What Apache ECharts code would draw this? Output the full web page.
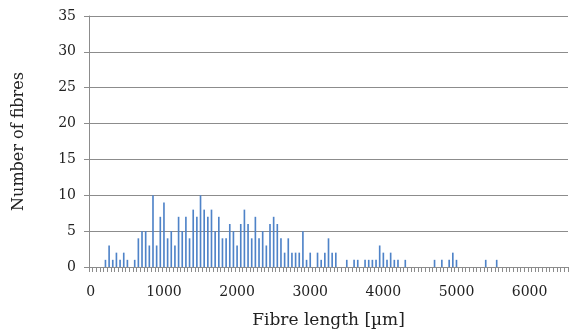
<!DOCTYPE html>
<html>
<head>
<meta charset="utf-8">
<script src="https://cdn.jsdelivr.net/npm/echarts@6/dist/echarts.min.js"></script>
<style>
  html, body { margin: 0; padding: 0; background: #fff; }
  #chart { width: 570px; height: 334px; }
</style>
</head>
<body>
<div id="chart"></div>
<script>
// fibre length histogram, 50 µm bins from 0 to 6500 µm
const binWidth = 50;
const counts = [
  0, 0, 0, 0, 1, 3, 1, 2, 1, 2,
  1, 0, 1, 4, 5, 5, 3, 10, 3, 7,
  9, 4, 5, 3, 7, 5, 7, 4, 8, 7,
  10, 8, 7, 8, 5, 7, 4, 4, 6, 5,
  3, 6, 8, 6, 4, 7, 4, 5, 3, 6,
  7, 6, 4, 2, 4, 2, 2, 2, 5, 1,
  2, 0, 2, 1, 2, 4, 2, 2, 0, 0,
  1, 0, 1, 1, 0, 1, 1, 1, 1, 3,
  2, 1, 2, 1, 1, 0, 1, 0, 0, 0,
  0, 0, 0, 0, 1, 0, 1, 0, 1, 2,
  1, 0, 0, 0, 0, 0, 0, 0, 1, 0,
  0, 1, 0, 0, 0, 0, 0, 0, 0, 0,
  0, 0, 0, 0, 0, 0, 0, 0, 0, 0,
  0
];
const binStarts = counts.map((_, i) => String(i * binWidth));
const yTicks = { min: 0, max: 35, interval: 5 };

const chart = echarts.init(document.getElementById('chart'));

const font = 'DejaVu Serif';
const axisGrey = '#8c8c8c';

const option = {
  animation: false,
  grid: { left: 89, right: 2, top: 16, bottom: 64 },
  xAxis: {
    type: 'category',
    data: binStarts,
    boundaryGap: true,
    name: 'Fibre length [µm]',
    nameLocation: 'middle',
    nameGap: 45,
    nameTextStyle: { fontFamily: font, fontSize: 17, color: '#222' },
    axisLine: { lineStyle: { color: axisGrey, width: 1 } },
    axisTick: { show: true, interval: 0, length: 5, lineStyle: { color: axisGrey } },
    axisLabel: {
      interval: 19,
      margin: 18,
      fontFamily: font,
      fontSize: 14,
      color: '#222'
    },
    splitLine: { show: false }
  },
  yAxis: {
    type: 'value',
    min: yTicks.min,
    max: yTicks.max,
    interval: yTicks.interval,
    name: 'Number of fibres',
    nameLocation: 'middle',
    nameRotate: 90,
    nameGap: 62,
    nameTextStyle: { fontFamily: font, fontSize: 16, color: '#222' },
    axisLine: { show: true, lineStyle: { color: axisGrey } },
    axisTick: { show: true, length: 5, lineStyle: { color: axisGrey } },
    axisLabel: { margin: 13, fontFamily: font, fontSize: 14, color: '#222' },
    splitLine: { lineStyle: { color: axisGrey, width: 1 } }
  },
  series: [
    {
      name: 'Number of fibres',
      type: 'bar',
      data: counts,
      barWidth: '45%',
      itemStyle: { color: '#4f83c8' }
    }
  ]
};

chart.setOption(option);
window.addEventListener('resize', () => chart.resize());
</script>
</body>
</html>
